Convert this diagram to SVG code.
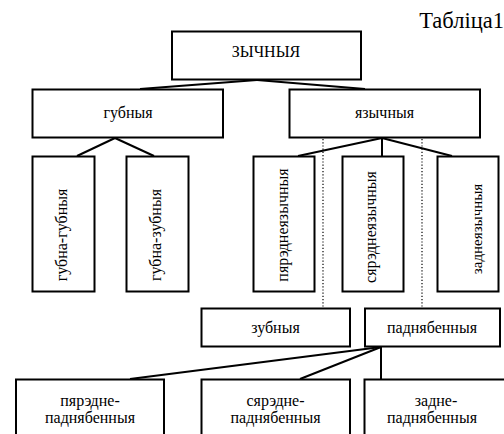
<svg xmlns="http://www.w3.org/2000/svg" width="504" height="434" viewBox="0 0 504 434">
<style>
.box{fill:#fff;stroke:#000;stroke-width:2}
.t{font-family:'Liberation Serif','DejaVu Serif',serif;font-size:16px;fill:#000;text-anchor:middle}
.c{stroke:#000;stroke-width:2;fill:none}
.d{stroke:#000;stroke-width:1.2;stroke-dasharray:1.2 2;fill:none}
</style>
<rect width="504" height="434" fill="#fff"/>
<text x="504" y="28" font-family="Liberation Serif, DejaVu Serif, serif" font-size="22.5" text-anchor="end">Табліца1</text>
<g id="connectors">
<line class="c" x1="257" y1="80" x2="140" y2="89"/>
<line class="c" x1="257" y1="80" x2="365" y2="89"/>
<line class="c" x1="115" y1="138" x2="77" y2="156"/>
<line class="c" x1="115" y1="138" x2="154" y2="156"/>
<line class="c" x1="382" y1="138" x2="298" y2="156"/>
<line class="c" x1="382" y1="138" x2="382" y2="156"/>
<line class="c" x1="382" y1="138" x2="452" y2="156"/>
<line class="c" x1="381" y1="347" x2="130" y2="379"/>
<line class="c" x1="381" y1="347" x2="300" y2="379"/>
<line class="c" x1="381" y1="347" x2="381" y2="379"/>
<line class="d" x1="323" y1="139" x2="323" y2="307"/>
<line class="d" x1="422" y1="139" x2="422" y2="307"/>
</g>
<g id="n-zychnyja"><rect class="box" x="172" y="31.5" width="189" height="48"/><text class="t" x="266" y="57">ЗЫЧНЫЯ</text></g>
<g id="n-hubnyja"><rect class="box" x="32.5" y="89.5" width="190.5" height="48"/><text class="t" x="128" y="118">губныя</text></g>
<g id="n-jazychnyja"><rect class="box" x="289.5" y="89.5" width="190.5" height="48"/><text class="t" x="384.5" y="118">язычныя</text></g>
<g id="n-hubna-hubnyja"><rect class="box" x="32.5" y="156.5" width="62" height="135"/><text class="t" transform="translate(67,235) rotate(-90)">губна-губныя</text></g>
<g id="n-hubna-zubnyja"><rect class="box" x="126.5" y="156.5" width="62" height="135"/><text class="t" transform="translate(161,235) rotate(-90)">губна-зубныя</text></g>
<g id="n-pjarednejazychnyja"><rect class="box" x="253.5" y="156.5" width="61" height="135"/><text class="t" transform="translate(288,225) rotate(-90)">пярэднеязычныя</text></g>
<g id="n-sjarednejazychnyja"><rect class="box" x="342.5" y="156.5" width="61" height="135"/><text class="t" transform="translate(376,227) rotate(-90)">сярэднеязычныя</text></g>
<g id="n-zadnejazychnyja"><rect class="box" x="437.5" y="156.5" width="61" height="135"/><text class="t" style="font-size:15px" transform="translate(482,229) rotate(-90)">заднеязычныя</text></g>
<g id="n-zubnyja"><rect class="box" x="201.5" y="308.5" width="148.5" height="38"/><text class="t" x="275.5" y="333">зубныя</text></g>
<g id="n-padnjabennyja"><rect class="box" x="365" y="308.5" width="135" height="38"/><text class="t" x="432" y="333">паднябенныя</text></g>
<g id="n-pjaredne-padnjabennyja"><rect class="box" x="16" y="379.5" width="148" height="70"/><text class="t" x="90" y="405.5">пярэдне-</text><text class="t" x="90" y="423">паднябенныя</text></g>
<g id="n-sjaredne-padnjabennyja"><rect class="box" x="201.5" y="379.5" width="148.5" height="70"/><text class="t" x="275.5" y="405.5">сярэдне-</text><text class="t" x="275.5" y="423">паднябенныя</text></g>
<g id="n-zadne-padnjabennyja"><rect class="box" x="364.5" y="379.5" width="145" height="70"/><text class="t" x="436" y="405.5">задне-</text><text class="t" x="432" y="423">паднябенныя</text></g>
</svg>
